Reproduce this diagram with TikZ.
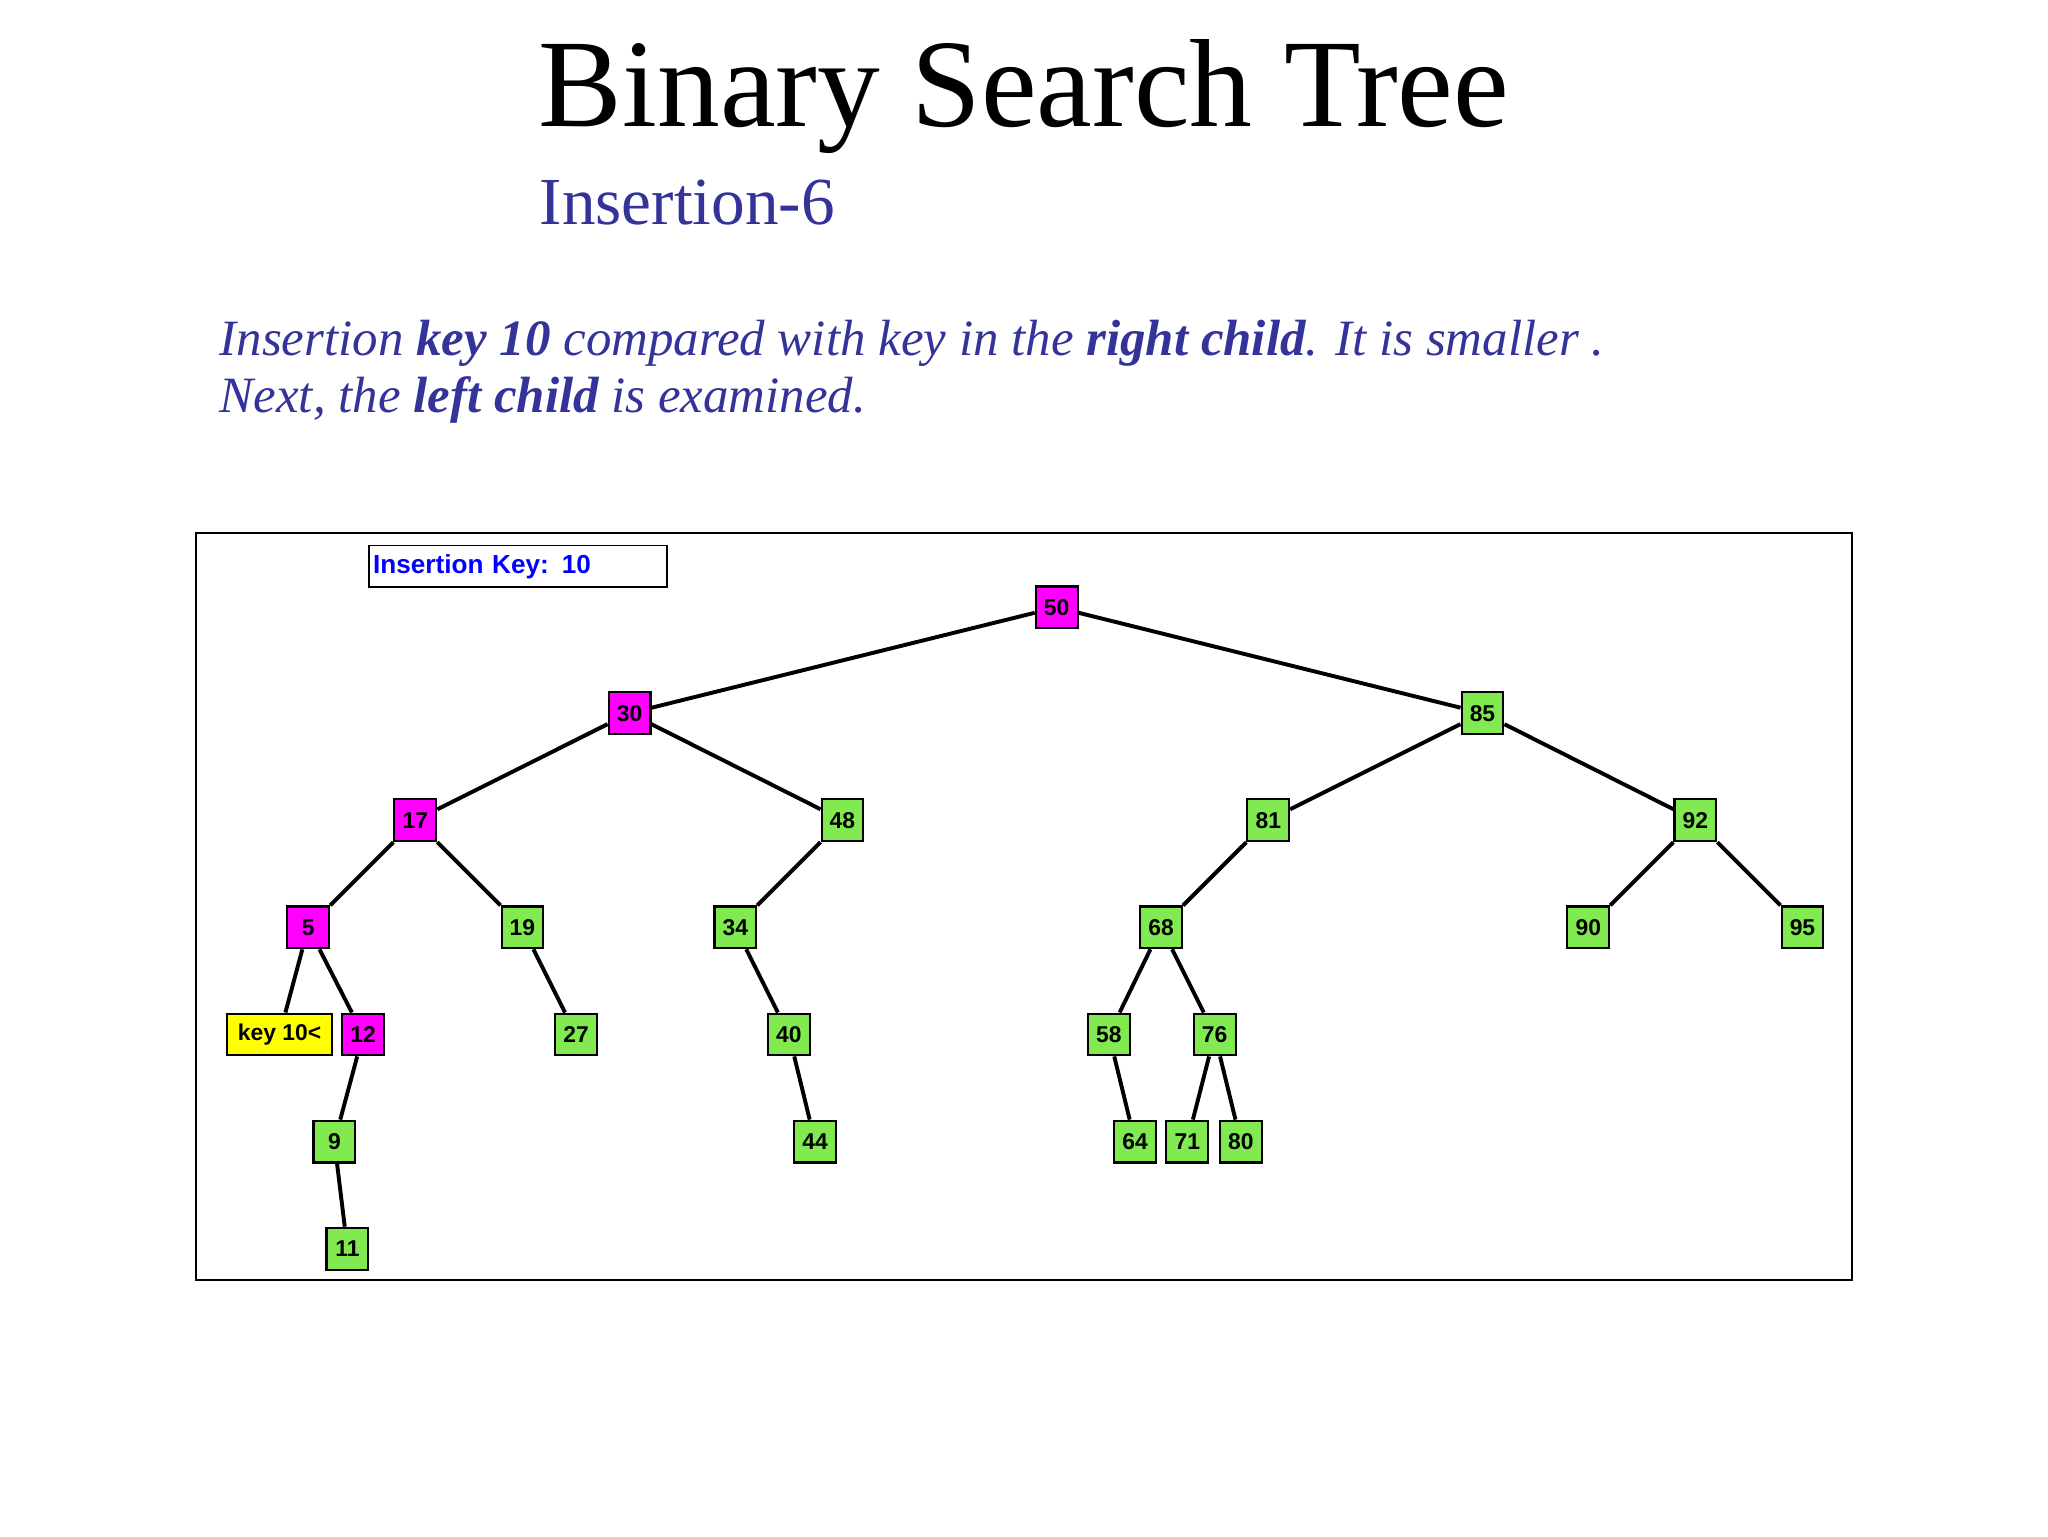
\documentclass[tikz,border=0pt]{standalone}
\usepackage{fontspec}
\setmainfont{Liberation Serif}
\setsansfont{Liberation Sans}
\definecolor{slate}{RGB}{51,51,153}
\definecolor{mag}{RGB}{255,0,255}
\definecolor{grn}{RGB}{128,234,80}
\definecolor{ylw}{RGB}{255,255,0}
\begin{document}
\begin{tikzpicture}[x=1pt,y=-1pt,
 nd/.style={draw=black,line width=1.6pt,minimum width=32pt,minimum height=32pt,inner sep=1pt,font=\sffamily\bfseries\fontsize{17.5}{17.5}\selectfont},
 g/.style={nd,fill=grn}, m/.style={nd,fill=mag},
 ed/.style={line width=3pt}]
\useasboundingbox (0,0) rectangle (1568,1176);
\node[anchor=base,font=\fontsize{96}{96}\selectfont] (title) at (784,97) {Binary Search Tree};
\node[anchor=base west,inner sep=0,text=slate,font=\fontsize{51.5}{51.5}\selectfont] (sub) at (413,172) {Insertion-6};
\node[anchor=base west,inner sep=0,text=slate,font=\itshape\fontsize{39}{39}\selectfont] (p1) at (168,272) {Insertion \textbf{key 10} compared with key in the \textbf{right child}. It is smaller .};
\node[anchor=base west,inner sep=0,text=slate,font=\itshape\fontsize{39}{39}\selectfont] (p2) at (168,316) {Next, the \textbf{left child} is examined.};
\draw[line width=1.4pt] (150,408) rectangle (1418,980);
\node[draw,line width=1.4pt,minimum width=228pt,minimum height=32pt,anchor=north west,inner sep=3pt,text=blue,font=\sffamily\bfseries\fontsize{20}{20}\selectfont,text width=222pt,align=left] (ik) at (282,417) {Insertion Key: 10};
\node[m] (n50) at (809,465) {50};
\node[m] (n30) at (482,546) {30};
\node[g] (n85) at (1135,546) {85};
\node[m] (n17) at (318,628) {17};
\node[g] (n48) at (645,628) {48};
\node[g] (n81) at (971,628) {81};
\node[g] (n92) at (1298,628) {92};
\node[m] (n5) at (236,710) {5};
\node[g] (n19) at (400,710) {19};
\node[g] (n34) at (563,710) {34};
\node[g] (n68) at (889,710) {68};
\node[g] (n90) at (1216,710) {90};
\node[g] (n95) at (1380,710) {95};
\node[nd,fill=ylw,minimum width=80pt] (k) at (214,792) {key 10<};
\node[m] (n12) at (278,792) {12};
\node[g] (n27) at (441,792) {27};
\node[g] (n40) at (604,792) {40};
\node[g] (n58) at (849,792) {58};
\node[g] (n76) at (930,792) {76};
\node[g] (n9) at (256,874) {9};
\node[g] (n44) at (624,874) {44};
\node[g] (n64) at (869,874) {64};
\node[g] (n71) at (909,874) {71};
\node[g] (n80) at (950,874) {80};
\node[g] (n11) at (266,956) {11};
\foreach \a/\b in {n50/n30,n50/n85,n30/n17,n30/n48,n85/n81,n85/n92,n17/n5,n17/n19,n48/n34,n81/n68,n92/n90,n92/n95,n5/n12,n19/n27,n34/n40,n68/n58,n68/n76,n12/n9,n40/n44,n58/n64,n76/n71,n76/n80,n9/n11}
 \draw[ed] (\a) -- (\b);
\draw[ed] (n5) -- (k);
\end{tikzpicture}
\end{document}
